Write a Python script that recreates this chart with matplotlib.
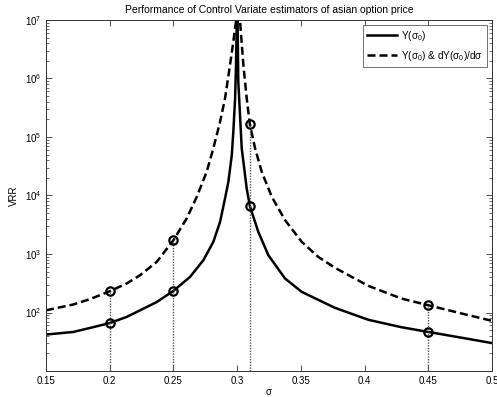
import math
import matplotlib
matplotlib.use("Agg")
import matplotlib.pyplot as plt
from matplotlib.ticker import FixedLocator, LogLocator, NullFormatter, FuncFormatter

plt.rcParams['font.family'] = ['Liberation Sans', 'DejaVu Sans']
plt.rcParams['mathtext.fontset'] = 'custom'
plt.rcParams['mathtext.rm'] = 'Liberation Sans'
plt.rcParams['mathtext.it'] = 'Liberation Sans'

# Data
sigma_y = [0.150, 0.1714, 0.1845, 0.200, 0.2133, 0.2238, 0.2369, 0.250, 0.2630, 0.2735, 0.2813,
           0.2866, 0.2905, 0.2931, 0.2958, 0.2970, 0.2984, 0.2991, 0.2997, 0.2999,
           0.3001, 0.3009, 0.3036, 0.3075, 0.310, 0.3166, 0.3245, 0.3376, 0.3507, 0.3768,
           0.403, 0.429, 0.450, 0.4763, 0.500]
vrr_y = [42, 46.5, 54.4, 66, 84, 109, 151, 234, 406, 783, 1610,
         3540, 8910, 17100, 49000, 123000, 457000, 1.7e6, 8.2e6, 3e7,
         3e7, 880000, 63800, 13200, 6580, 2390, 953, 381, 225, 120,
         75, 56, 46.5, 37, 30]

sigma_d = [0.150, 0.1714, 0.1845, 0.200, 0.2133, 0.2238, 0.2369, 0.250, 0.2604, 0.2683, 0.2761,
           0.2813, 0.2866, 0.2905, 0.2944, 0.2970, 0.2991, 0.2999,
           0.3001, 0.3023, 0.3049, 0.3075, 0.310, 0.3141, 0.3193, 0.3272, 0.3376, 0.3507,
           0.3637, 0.3768, 0.403, 0.429, 0.450, 0.4763, 0.500]
vrr_d = [109, 137, 169, 231, 313, 434, 733, 1720, 4050, 9480, 25400,
         63800, 182000, 457000, 1.7e6, 4.26e6, 9.4e6, 3e7,
         3e7, 9.4e6, 1.7e6, 457000, 164000, 63800, 25400, 9480, 3790, 1610,
         891, 580, 285, 173, 133, 96, 72]

sigma_mark = [0.20, 0.25, 0.31, 0.45]
mark_y = [66, 234, 6580, 46.5]
mark_d = [231, 1720, 164000, 133]

labels = ['Y(σ$_0$)', 'Y(σ$_0$) & dY(σ$_0$)/dσ']
title = 'Performance of Control Variate estimators of asian option price'

fig = plt.figure(figsize=(4.97, 3.97), dpi=100)
ax = fig.add_axes([46/497, 1-371/397, 446/497, 351/397])

ax.plot(sigma_y, vrr_y, color='black', lw=1.8, label=labels[0])
ax.plot(sigma_d, vrr_d, color='black', lw=1.8, ls=(0, (3.2, 1.6)), label=labels[1])

for s, top in zip(sigma_mark, mark_d):
    ax.plot([s, s], [10, top], color='#555555', lw=1.0, ls=(0, (1, 1)))
ax.plot(sigma_mark, mark_y, 'o', mfc='none', mec='black', mew=1.6, ms=6)
ax.plot(sigma_mark, mark_d, 'o', mfc='none', mec='black', mew=1.6, ms=6)

ax.set_yscale('log')
ax.set_xlim(0.15, 0.5)
ax.set_ylim(10, 1e7)
ax.set_xticks([0.15, 0.2, 0.25, 0.3, 0.35, 0.4, 0.45, 0.5])
ax.set_xticklabels(['0.15', '0.2', '0.25', '0.3', '0.35', '0.4', '0.45', '0.5'])
ax.yaxis.set_major_locator(FixedLocator([1e2, 1e3, 1e4, 1e5, 1e6, 1e7]))
ax.yaxis.set_major_formatter(FuncFormatter(lambda v, p: r'$10^{%d}$' % round(math.log10(v))))
ax.yaxis.set_minor_locator(LogLocator(base=10, subs=[2, 3, 4, 5, 6, 7, 8, 9], numticks=20))
ax.yaxis.set_minor_formatter(NullFormatter())

ax.tick_params(which='both', direction='in', top=True, right=True, labelsize=7, colors='#333333', labelcolor='black')
ax.tick_params(which='major', length=4, width=0.6)
ax.tick_params(which='minor', length=2, width=0.5)
for sp in ax.spines.values():
    sp.set_color('#333333')
    sp.set_linewidth(0.7)

ax.set_title(title, fontsize=7.5, pad=5)
ax.set_xlabel('σ', fontsize=7, labelpad=1)
ax.set_ylabel('VRR', fontsize=7, labelpad=4)

leg = ax.legend(loc='upper right', fontsize=7.2, frameon=True, fancybox=False, edgecolor='#333333',
                handlelength=3.0, borderaxespad=0.5, labelspacing=0.6, handletextpad=0.4)
leg.get_frame().set_linewidth(0.6)

fig.savefig('out.png', dpi=100)
